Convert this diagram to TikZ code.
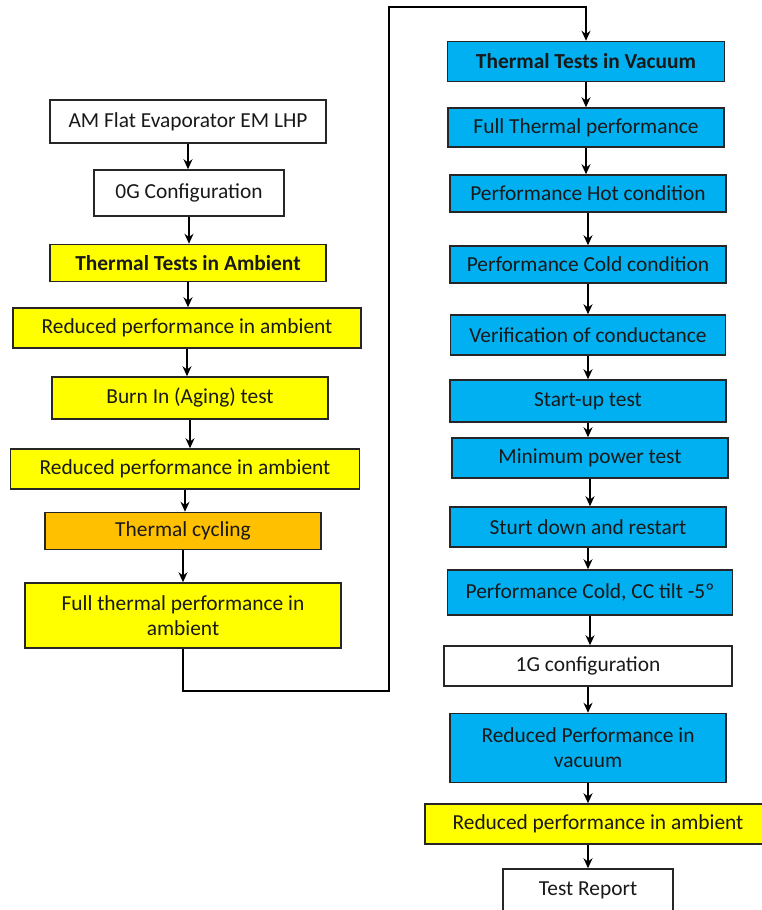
\documentclass[tikz,border=0pt]{standalone}
\usepackage{fontspec}
\setmainfont{Carlito}
\usetikzlibrary{arrows.meta}
\definecolor{boxyellow}{RGB}{255,255,0}
\definecolor{boxorange}{RGB}{255,192,0}
\definecolor{boxblue}{RGB}{0,176,240}
\begin{document}
\begin{tikzpicture}[
  x=0.5pt,
  y=-0.5pt,
  every node/.style={font=\fontsize{10.7}{12.6}\selectfont, text=black!90},
  stepbox/.style={draw=black!85, line width=0.75pt, inner sep=0pt, align=center},
  whitebox/.style={stepbox, fill=white},
  yellowbox/.style={stepbox, fill=boxyellow},
  orangebox/.style={stepbox, fill=boxorange},
  bluebox/.style={stepbox, fill=boxblue},
  flow/.style={-{Stealth[length=5pt, width=4.5pt]}, draw=black, line width=0.7pt}
]
  \useasboundingbox (0,0) rectangle (761,910);

  % ambient column
  \node[whitebox, minimum width=138pt, minimum height=21.5pt] (am) at (188,121.5) {AM Flat Evaporator EM LHP};
  \node[whitebox, minimum width=95pt, minimum height=23pt] (og) at (189,193) {0G Configuration};
  \node[yellowbox, minimum width=138pt, minimum height=18.5pt, font=\fontsize{10.7}{12.6}\selectfont\bfseries] (tta) at (188,263) {Thermal Tests in Ambient};
  \node[yellowbox, minimum width=174pt, minimum height=20pt] (rpaA) at (187,328) {Reduced performance in ambient};
  \node[yellowbox, minimum width=138pt, minimum height=21pt] (burn) at (190,398) {Burn In (Aging) test};
  \node[yellowbox, minimum width=174.5pt, minimum height=20pt] (rpaB) at (185,469) {Reduced performance in ambient};
  \node[orangebox, minimum width=138pt, minimum height=18.5pt] (cyc) at (183,531) {Thermal cycling};
  \node[yellowbox, minimum width=158pt, minimum height=32.5pt] (fta) at (183,615.5) {Full thermal performance in\\ambient};

  % vacuum column
  \node[bluebox, minimum width=138.5pt, minimum height=20pt, font=\fontsize{10.7}{12.6}\selectfont\bfseries] (ttv) at (586,61.5) {Thermal Tests in Vacuum};
  \node[bluebox, minimum width=138pt, minimum height=19.5pt] (ftp) at (586,127.5) {Full Thermal performance};
  \node[bluebox, minimum width=138pt, minimum height=18.5pt] (hot) at (588,193.5) {Performance Hot condition};
  \node[bluebox, minimum width=138pt, minimum height=18.5pt] (cold) at (588,264.5) {Performance Cold condition};
  \node[bluebox, minimum width=137.5pt, minimum height=20pt] (verif) at (588,335) {Verification of conductance};
  \node[bluebox, minimum width=138pt, minimum height=21pt] (start) at (588,401) {Start-up test};
  \node[bluebox, minimum width=138pt, minimum height=20pt] (minpow) at (590,458) {Minimum power test};
  \node[bluebox, minimum width=138pt, minimum height=20pt] (sturt) at (588,527) {Sturt down and restart};
  \node[bluebox, minimum width=142.5pt, minimum height=22.5pt] (tilt) at (590,592.5) {Performance Cold, CC tilt -5º};
  \node[whitebox, minimum width=144pt, minimum height=20pt] (oneg) at (588,666) {1G configuration};
  \node[bluebox, minimum width=138pt, minimum height=34.5pt] (rpv) at (588,748) {Reduced Performance in\\vacuum};
  \node[yellowbox, minimum width=173pt, minimum height=20pt] (rpaC) at (598,824) {Reduced performance in ambient};
  \node[whitebox, minimum width=85pt, minimum height=21pt] (report) at (588,890) {Test Report};

  \foreach \a/\b in {am/og, og/tta, tta/rpaA, rpaA/burn, burn/rpaB, rpaB/cyc, cyc/fta,
                     ttv/ftp, ftp/hot, hot/cold, cold/verif, verif/start, start/minpow,
                     minpow/sturt, sturt/tilt, tilt/oneg, oneg/rpv, rpv/rpaC}
    \draw[flow] (\a.south) -- (\a.south |- \b.north);
  \draw[flow] (rpaC.south -| report.north) -- (report.north);

  % link between the columns
  \coordinate (loopA) at (389,691);
  \coordinate (loopB) at (389,7);
  \draw[flow] (fta.south) |- (loopA) -- (loopB) -| (ttv.north);
\end{tikzpicture}
\end{document}
